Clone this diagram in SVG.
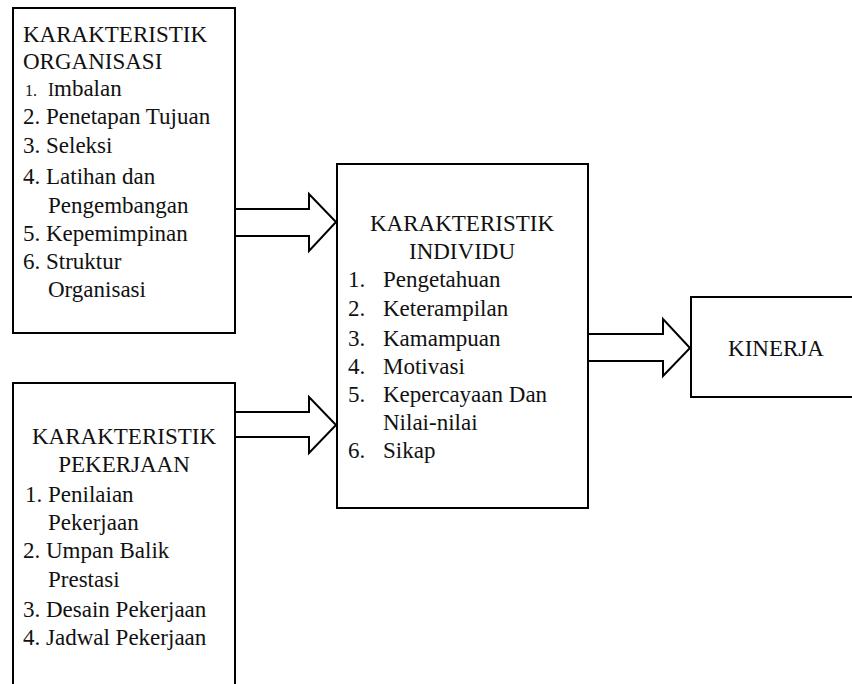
<svg xmlns="http://www.w3.org/2000/svg" width="852" height="684" viewBox="0 0 852 684">
<style>
.box{fill:#fff;stroke:#000;stroke-width:2}
.arr{fill:none;stroke:#000;stroke-width:2;stroke-linejoin:miter}
.t text{font-size:23px;fill:#111}
.c{text-anchor:middle}
</style>
<rect width="852" height="684" fill="#fff"/>
<g class="t" font-family="Liberation Serif, DejaVu Serif, serif" font-size="23">
<g id="organisasi">
<rect class="box" x="13" y="8" width="222" height="325"/>
<text x="23" y="42">KARAKTERISTIK</text>
<text x="23" y="69">ORGANISASI</text>
<text x="25" y="96"><tspan font-size="16">1.</tspan><tspan x="48" font-size="18">I</tspan>mbalan</text>
<text x="23" y="124">2. Penetapan Tujuan</text>
<text x="23" y="153">3. Seleksi</text>
<text x="23" y="184">4. Latihan dan</text>
<text x="48" y="213">Pengembangan</text>
<text x="23" y="241">5. Kepemimpinan</text>
<text x="23" y="269">6. Struktur</text>
<text x="48" y="297">Organisasi</text>
</g>
<g id="pekerjaan">
<rect class="box" x="13" y="383" width="222" height="330"/>
<text class="c" x="124" y="444">KARAKTERISTIK</text>
<text class="c" x="124" y="472">PEKERJAAN</text>
<text x="25" y="502">1. Penilaian</text>
<text x="48" y="530">Pekerjaan</text>
<text x="23" y="558">2. Umpan Balik</text>
<text x="48" y="587">Prestasi</text>
<text x="23" y="617">3. Desain Pekerjaan</text>
<text x="23" y="645">4. Jadwal Pekerjaan</text>
</g>
<g id="individu">
<rect class="box" x="337" y="164" width="251" height="344"/>
<text class="c" x="462" y="231">KARAKTERISTIK</text>
<text class="c" x="462" y="259">INDIVIDU</text>
<text x="348" y="287">1.</text><text x="383" y="287">Pengetahuan</text>
<text x="348" y="316">2.</text><text x="383" y="316">Keterampilan</text>
<text x="348" y="346">3.</text><text x="383" y="346">Kamampuan</text>
<text x="348" y="374">4.</text><text x="383" y="374">Motivasi</text>
<text x="348" y="402">5.</text><text x="383" y="402">Kepercayaan Dan</text>
<text x="383" y="430">Nilai-nilai</text>
<text x="348" y="458">6.</text><text x="383" y="458">Sikap</text>
</g>
<g id="kinerja">
<rect class="box" x="691" y="297" width="180" height="100"/>
<text class="c" x="776" y="356">KINERJA</text>
</g>
</g>
<g id="connectors">
<path class="arr" d="M235,209 H309 V194 L336,222 L309,251 V236 H235"/>
<path class="arr" d="M235,412 H309 V397 L336,425 L309,453 V437 H235"/>
<path class="arr" d="M588,334 H663 V319 L690,348 L663,376 V361 H588"/>
</g>
</svg>
